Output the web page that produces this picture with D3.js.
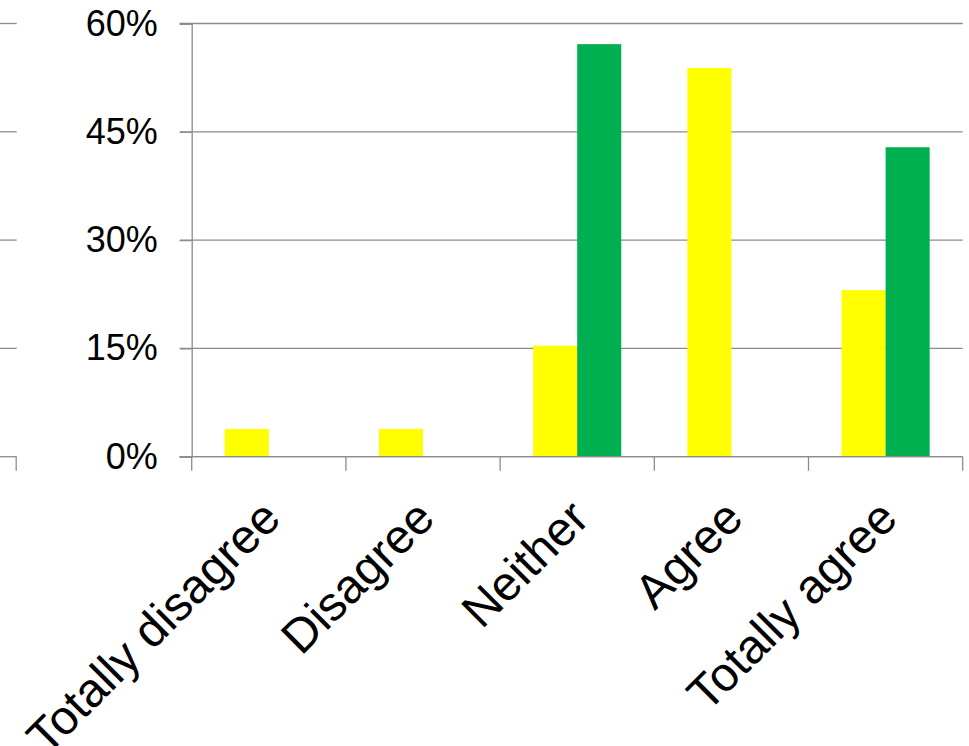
<!DOCTYPE html>
<html>
<head>
<meta charset="utf-8">
<script src="https://cdn.jsdelivr.net/npm/d3@7"></script>
<style>
  html, body { margin: 0; padding: 0; background: #fff; }
  svg { display: block; }
  text { font-family: Arial, "Liberation Sans", sans-serif; fill: #000; }
</style>
</head>
<body>
<svg id="chart" width="969" height="746"></svg>
<script>
// Survey responses, share of respondents per answer
const categories = ["Totally disagree", "Disagree", "Neither", "Agree", "Totally agree"];
const seriesNames = ["Group A", "Group B"];
const groupA = [3.85, 3.85, 15.38, 53.85, 23.08];
const groupB = [0, 0, 57.14, 0, 42.86];
const yTicks = [0, 15, 30, 45, 60];
const tickLabels = ["0%", "15%", "30%", "45%", "60%"];
const colors = ["#FFFF00", "#00B050"];

const svg = d3.select("#chart");
const plotLeft = 191.7, plotRight = 962.7, plotTop = 23.5, plotBottom = 456.7;
const gridColor = "#8c8c8c";

const x = d3.scaleBand().domain(categories).range([plotLeft, plotRight])
  .paddingInner(0).paddingOuter(0);
const xSub = d3.scaleBand().domain(seriesNames).range([0, x.bandwidth()])
  .paddingInner(0).paddingOuter(0.75);
const y = d3.scaleLinear().domain([0, 60]).range([plotBottom, plotTop]);

// neighbouring panel edge at the far left
const edge = svg.append("g");
edge.selectAll("line.g").data(yTicks).join("line")
  .attr("x1", 0).attr("x2", 16.7)
  .attr("y1", d => y(d)).attr("y2", d => y(d))
  .attr("stroke", gridColor).attr("stroke-width", 1.3);
edge.append("line")
  .attr("x1", 16.2).attr("x2", 16.2).attr("y1", y(0)).attr("y2", y(0) + 14)
  .attr("stroke", gridColor).attr("stroke-width", 1.3);

// horizontal gridlines
svg.append("g").selectAll("line").data(yTicks).join("line")
  .attr("x1", plotLeft - 12).attr("x2", plotRight)
  .attr("y1", d => y(d)).attr("y2", d => y(d))
  .attr("stroke", gridColor).attr("stroke-width", 1.3);

// y axis
const yAxis = d3.axisLeft(y).tickValues(yTicks)
  .tickFormat((d, i) => tickLabels[i]).tickSize(12).tickPadding(22);
const gy = svg.append("g").attr("transform", `translate(${plotLeft},0)`).call(yAxis);
gy.select(".domain").attr("stroke", gridColor).attr("stroke-width", 1.3);
gy.selectAll(".tick line").attr("stroke", gridColor).attr("stroke-width", 1.3);
gy.selectAll(".tick text").attr("font-size", 36)
  .style("font-family", "Arial, 'Liberation Sans', sans-serif").attr("fill", "#000");

// bars
const data = categories.map((c, i) => ({ c, vals: [groupA[i], groupB[i]] }));
const groups = svg.append("g").selectAll("g").data(data).join("g")
  .attr("transform", d => `translate(${x(d.c)},0)`);
groups.selectAll("rect").data(d => d.vals.map((v, j) => ({ v, s: seriesNames[j], j })))
  .join("rect")
  .attr("x", d => xSub(d.s))
  .attr("width", xSub.bandwidth())
  .attr("y", d => y(d.v))
  .attr("height", d => y(0) - y(d.v))
  .attr("fill", d => colors[d.j]);

// x axis baseline and category boundary ticks
const gx = svg.append("g").attr("transform", `translate(0,${plotBottom})`);
const edges = d3.range(categories.length + 1).map(i => plotLeft + i * x.bandwidth());
gx.selectAll("line.edge").data(edges).join("line")
  .attr("x1", d => d).attr("x2", d => d).attr("y1", 0).attr("y2", 14)
  .attr("stroke", gridColor).attr("stroke-width", 1.3);
gx.append("line").attr("x1", plotLeft - 12).attr("x2", plotRight).attr("y1", 0).attr("y2", 0)
  .attr("stroke", gridColor).attr("stroke-width", 1.3);

// rotated category labels
svg.append("g").selectAll("text").data(categories).join("text")
  .attr("transform", d => `translate(${x(d) + x.bandwidth() / 2 + 14},${plotBottom + 64}) rotate(-45)`)
  .attr("text-anchor", "end")
  .attr("font-size", 48)
  .text(d => d);
</script>
</body>
</html>
